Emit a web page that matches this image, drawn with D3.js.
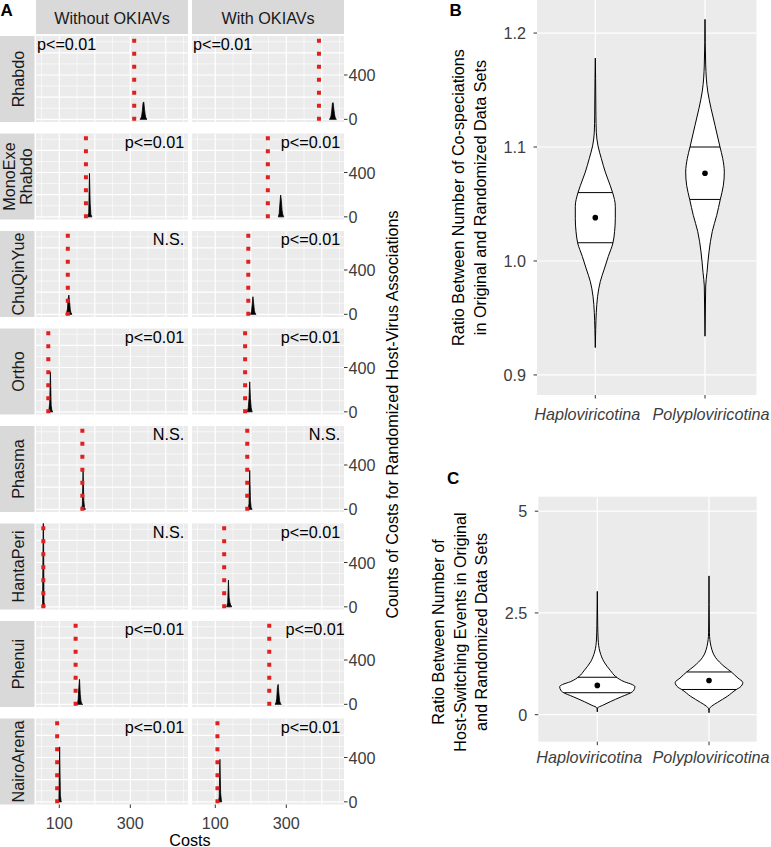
<!DOCTYPE html>
<html><head><meta charset="utf-8">
<script src="https://cdn.jsdelivr.net/npm/d3@7"></script>
<style>
body{margin:0;background:#fff}
text{font-family:"Liberation Sans",Arial,Helvetica,sans-serif}
</style>
</head><body>
<svg id="chart" width="771" height="847"></svg>
<script>
// ---------------- DATA ----------------
const facetRows = ["Rhabdo", "MonoExe\nRhabdo", "ChuQinYue", "Ortho", "Phasma", "HantaPeri", "Phenui", "NairoArena"];
const facetCols = ["Without OKIAVs", "With OKIAVs"];

// observed cost (red dotted line) per row
const observedWithout = [311, 175, 124, 69, 165, 55, 146, 94];
const observedWith    = [392, 248, 193, 184, 190, 125, 252, 106];

// randomized cost histograms (bin width 2 cost units)
const binWidth = 2;
const histStartWithout = [327, 180, 118, 70, 162, 52, 148, 96];
const histCountsWithout = [
  [3, 10, 30, 80, 150, 156, 90, 40, 12, 3],
  [5, 40, 392, 120, 20, 5],
  [3, 15, 50, 140, 174, 110, 40, 12, 3],
  [20, 80, 361, 60, 15, 3],
  [10, 40, 367, 80, 15, 3],
  [30, 950, 40, 10],
  [3, 10, 40, 150, 226, 90, 30, 8, 2],
  [10, 30, 496, 60, 10]
];
const histStartWith = [421, 277, 199, 190, 192, 132, 268, 108];
const histCountsWith = [
  [3, 10, 30, 80, 147, 150, 90, 40, 12, 3],
  [5, 30, 120, 196, 150, 60, 20, 5],
  [5, 25, 90, 159, 100, 35, 10, 3],
  [10, 40, 120, 271, 120, 40, 10],
  [10, 50, 352, 80, 15, 3],
  [10, 40, 241, 80, 40, 20, 8],
  [3, 15, 50, 150, 180, 100, 35, 10, 3],
  [10, 40, 383, 80, 15]
];

const pLabelWithout = ["p<=0.01", "p<=0.01", "N.S.", "p<=0.01", "N.S.", "N.S.", "p<=0.01", "p<=0.01"];
const pLabelWith    = ["p<=0.01", "p<=0.01", "p<=0.01", "p<=0.01", "N.S.", "p<=0.01", "p<=0.01", "p<=0.01"];
// annotation x (cost units) and anchor
const pLabelXWithout = [37, 452, 452, 452, 452, 452, 452, 452];
const pLabelXWith    = [37, 452, 452, 452, 452, 452, 465, 452];
const pLabelAnchorRow = ["start", "end", "end", "end", "end", "end", "end", "end"];

const costDomain = [34.4, 462.5];
const costTicks = [100, 300];
const costMajor = [100, 200, 300, 400];
const costMinor = [50, 150, 250, 350, 450];
const countDomain = [-24, 752];
const countTicks = [0, 400];
const countMajor = [0, 200, 400, 600];
const countMinor = [100, 300, 500, 700];

// Panel B: co-speciation ratio violins
const violinGroups = ["Haploviricotina", "Polyploviricotina"];
const cospecHaploVals = [1.178, 1.160, 1.128, 1.113, 1.101, 1.090, 1.078, 1.066, 1.060, 1.048, 1.037, 1.026, 1.016, 1.004, 0.993, 0.982, 0.969, 0.955, 0.940, 0.924];
const cospecHaploDens = [0, 0.015, 0.03, 0.05, 0.135, 0.30, 0.50, 0.75, 0.865, 1.0, 1.0, 0.965, 0.885, 0.65, 0.45, 0.25, 0.115, 0.05, 0.02, 0];
const cospecPolyVals = [1.212, 1.172, 1.149, 1.134, 1.119, 1.100, 1.090, 1.078, 1.066, 1.054, 1.040, 1.026, 1.008, 0.990, 0.978, 0.950, 0.934];
const cospecPolyDens = [0, 0.035, 0.135, 0.30, 0.50, 0.75, 0.885, 0.965, 0.915, 0.765, 0.585, 0.365, 0.20, 0.10, 0.035, 0.015, 0];
const cospecQuantiles = [[1.016, 1.060], [1.054, 1.100]];
const cospecMeans = [1.038, 1.077];
const cospecTicks = [0.9, 1.0, 1.1, 1.2];
const cospecDomain = [0.8824, 1.229];

// Panel C: host-switching ratio violins
const switchHaploVals = [3.03, 2.20, 1.86, 1.54, 1.30, 1.08, 0.94, 0.81, 0.74, 0.69, 0.60, 0.56, 0.44, 0.32, 0.23, 0.17, 0.07];
const switchHaploDens = [0, 0.011, 0.021, 0.071, 0.176, 0.35, 0.48, 0.71, 0.92, 0.99, 0.96, 0.92, 0.63, 0.34, 0.14, 0.011, 0];
const switchPolyVals = [3.41, 2.01, 1.68, 1.40, 1.19, 1.05, 0.90, 0.79, 0.67, 0.62, 0.45, 0.30, 0.21, 0.15, 0.05];
const switchPolyDens = [0, 0.011, 0.053, 0.176, 0.395, 0.587, 0.763, 0.89, 0.81, 0.72, 0.48, 0.22, 0.071, 0.011, 0];
const switchQuantiles = [[0.54, 0.92], [0.62, 1.05]];
const switchMeans = [0.72, 0.84];
const switchTicks = [0, 2.5, 5];
const switchTickLabels = ["0", "2.5", "5"];
const switchDomain = [-0.663, 5.356];

// ---------------- DRAW ----------------
const svg = d3.select("#chart");
const FONT = 16.2;
const stripFill = "#d9d9d9", panelFill = "#ebebeb", axisText = "#3d3d3d", tickCol = "#333333";
const redCol = "#e01f1f";

// ----- Panel A layout -----
const colLeft = [36, 192], colW = 152;
const rowTop0 = 36, rowStep = 97.5, rowH = 86;
const defs = svg.append("defs");

// column strips
facetCols.forEach((c, j) => {
  svg.append("rect").attr("x", colLeft[j]).attr("y", 0).attr("width", colW).attr("height", 34).attr("fill", stripFill);
  svg.append("text").attr("x", colLeft[j] + colW / 2).attr("y", 23.5).attr("text-anchor", "middle")
    .attr("font-size", FONT).attr("fill", "#1a1a1a").text(c);
});

const obsByCol = [observedWithout, observedWith];
const hStartByCol = [histStartWithout, histStartWith];
const hCountsByCol = [histCountsWithout, histCountsWith];
const pLabByCol = [pLabelWithout, pLabelWith];
const pXByCol = [pLabelXWithout, pLabelXWith];

facetRows.forEach((rowName, i) => {
  const top = rowTop0 + i * rowStep;
  // row strip
  svg.append("rect").attr("x", 0).attr("y", top).attr("width", 34.5).attr("height", rowH).attr("fill", stripFill);
  const lines = rowName.split("\n");
  const st = svg.append("text").attr("transform", `translate(17.5,${top + rowH / 2}) rotate(-90)`)
    .attr("text-anchor", "middle").attr("font-size", FONT).attr("fill", "#1a1a1a");
  lines.forEach((ln, k) => {
    st.append("tspan").attr("x", 0).attr("y", (k - (lines.length - 1) / 2) * 17.5)
      .attr("dominant-baseline", "central").text(ln);
  });

  const y = d3.scaleLinear().domain(countDomain).range([top + rowH, top]);

  facetCols.forEach((c, j) => {
    const x = d3.scaleLinear().domain(costDomain).range([colLeft[j], colLeft[j] + colW]);
    const clipId = `clip-${i}-${j}`;
    defs.append("clipPath").attr("id", clipId).append("rect")
      .attr("x", colLeft[j]).attr("y", top).attr("width", colW).attr("height", rowH);
    const g = svg.append("g");
    g.append("rect").attr("x", colLeft[j]).attr("y", top).attr("width", colW).attr("height", rowH).attr("fill", panelFill);
    const gg = g.append("g").attr("clip-path", `url(#${clipId})`);
    costMinor.forEach(v => gg.append("line").attr("x1", x(v)).attr("x2", x(v)).attr("y1", top).attr("y2", top + rowH).attr("stroke", "#fff").attr("stroke-width", 0.6));
    countMinor.forEach(v => gg.append("line").attr("y1", y(v)).attr("y2", y(v)).attr("x1", colLeft[j]).attr("x2", colLeft[j] + colW).attr("stroke", "#fff").attr("stroke-width", 0.6));
    costMajor.forEach(v => gg.append("line").attr("x1", x(v)).attr("x2", x(v)).attr("y1", top).attr("y2", top + rowH).attr("stroke", "#fff").attr("stroke-width", 1.2));
    countMajor.forEach(v => gg.append("line").attr("y1", y(v)).attr("y2", y(v)).attr("x1", colLeft[j]).attr("x2", colLeft[j] + colW).attr("stroke", "#fff").attr("stroke-width", 1.2));

    // histogram (frequency polygon of bins)
    const start = hStartByCol[j][i], counts = hCountsByCol[j][i];
    const pts = [[start, 0]];
    counts.forEach((cnt, k) => pts.push([start + k * binWidth + binWidth / 2, cnt]));
    pts.push([start + counts.length * binWidth, 0]);
    gg.append("path").attr("d", d3.line().x(d => x(d[0])).y(d => y(Math.max(d[1], 0)))(pts) + "Z")
      .attr("fill", "#000").attr("stroke", "#000").attr("stroke-width", 0.8).attr("stroke-linejoin", "miter");

    // observed red dotted line
    gg.append("line").attr("x1", x(obsByCol[j][i])).attr("x2", x(obsByCol[j][i]))
      .attr("y1", top).attr("y2", top + rowH).attr("stroke", redCol).attr("stroke-width", 4)
      .attr("stroke-dasharray", "4 9").attr("stroke-dashoffset", 10.3);

    // p label
    g.append("text").attr("x", x(pXByCol[j][i])).attr("y", top + 14)
      .attr("text-anchor", pLabelAnchorRow[i]).attr("font-size", FONT).attr("fill", "#000")
      .text(pLabByCol[j][i]);
  });

  // right y-axis
  countTicks.forEach(t => {
    const ty = y(t);
    svg.append("line").attr("x1", colLeft[1] + colW).attr("x2", colLeft[1] + colW + 3.5).attr("y1", ty).attr("y2", ty)
      .attr("stroke", tickCol).attr("stroke-width", 1);
    svg.append("text").attr("x", colLeft[1] + colW + 4.5).attr("y", ty).attr("dominant-baseline", "central")
      .attr("font-size", FONT).attr("fill", axisText).text(t);
  });
});

// bottom x-axis of panel A
const aBottom = rowTop0 + (facetRows.length - 1) * rowStep + rowH;
facetCols.forEach((c, j) => {
  const x = d3.scaleLinear().domain(costDomain).range([colLeft[j], colLeft[j] + colW]);
  costTicks.forEach(t => {
    svg.append("line").attr("x1", x(t)).attr("x2", x(t)).attr("y1", aBottom).attr("y2", aBottom + 3.5)
      .attr("stroke", tickCol).attr("stroke-width", 1);
    svg.append("text").attr("x", x(t)).attr("y", aBottom + 24).attr("text-anchor", "middle")
      .attr("font-size", FONT).attr("fill", axisText).text(t);
  });
});
svg.append("text").attr("x", (colLeft[0] + colLeft[1] + colW) / 2).attr("y", 845.5).attr("text-anchor", "middle")
  .attr("font-size", FONT).attr("fill", "#000").text("Costs");
svg.append("text").attr("transform", "translate(391.5,414.5) rotate(-90)").attr("text-anchor", "middle")
  .attr("dominant-baseline", "central").attr("font-size", FONT).attr("fill", "#000")
  .text("Counts of Costs for Randomized Host-Virus Associations");

// panel letters
svg.append("text").attr("x", 0.5).attr("y", 15.5).attr("font-size", 17).attr("font-weight", "bold").text("A");
svg.append("text").attr("x", 449.5).attr("y", 15.5).attr("font-size", 17).attr("font-weight", "bold").text("B");
svg.append("text").attr("x", 447).attr("y", 483.5).attr("font-size", 17).attr("font-weight", "bold").text("C");

// ----- violin panels -----
function violinPanel(opt) {
  const { left, right, top, bottom, catRange, domain, ticks, tickLabels, series, quant, means, maxHW, titleLines, titleX, titleY, labelY, labelDx } = opt;
  const y = d3.scaleLinear().domain(domain).range([bottom, top]);
  const x = d3.scalePoint().domain(violinGroups).range(catRange);
  const w = d3.scaleLinear().domain([0, 1]).range([0, maxHW]);
  svg.append("rect").attr("x", left).attr("y", top).attr("width", right - left).attr("height", bottom - top).attr("fill", panelFill);
  ticks.forEach(t => svg.append("line").attr("x1", left).attr("x2", right).attr("y1", y(t)).attr("y2", y(t)).attr("stroke", "#fff").attr("stroke-width", 1.2));
  violinGroups.forEach(gname => svg.append("line").attr("x1", x(gname)).attr("x2", x(gname)).attr("y1", top).attr("y2", bottom).attr("stroke", "#fff").attr("stroke-width", 1.2));
  // y axis
  ticks.forEach((t, k) => {
    svg.append("line").attr("x1", left - 3.5).attr("x2", left).attr("y1", y(t)).attr("y2", y(t)).attr("stroke", tickCol);
    svg.append("text").attr("x", left - 11).attr("y", y(t)).attr("text-anchor", "end").attr("dominant-baseline", "central")
      .attr("font-size", FONT).attr("fill", axisText).text(tickLabels[k]);
  });
  // x axis
  violinGroups.forEach((gname, k) => {
    svg.append("line").attr("x1", x(gname)).attr("x2", x(gname)).attr("y1", bottom).attr("y2", bottom + 3.5).attr("stroke", tickCol);
    svg.append("text").attr("x", x(gname) + labelDx[k]).attr("y", labelY).attr("text-anchor", "middle")
      .attr("font-size", FONT).attr("font-style", "italic").attr("fill", axisText).text(gname);
  });
  // violins
  series.forEach((s, k) => {
    const cx = x(violinGroups[k]);
    const pts = s.vals.map((v, idx) => [v, s.dens[idx]]);
    const area = d3.area().y(d => y(d[0])).x0(d => cx - w(d[1])).x1(d => cx + w(d[1])).curve(d3.curveMonotoneY);
    const sorted = pts.slice().sort((a, b) => a[0] - b[0]);
    svg.append("path").attr("d", area(sorted)).attr("fill", "#fff").attr("stroke", "#000").attr("stroke-width", 1);
    const interp = v => {
      for (let q = 0; q < sorted.length - 1; q++) {
        if (v >= sorted[q][0] && v <= sorted[q + 1][0]) {
          const f = (v - sorted[q][0]) / (sorted[q + 1][0] - sorted[q][0]);
          return sorted[q][1] + f * (sorted[q + 1][1] - sorted[q][1]);
        }
      }
      return 0;
    };
    quant[k].forEach(qv => {
      const hw = w(interp(qv));
      svg.append("line").attr("x1", cx - hw).attr("x2", cx + hw).attr("y1", y(qv)).attr("y2", y(qv))
        .attr("stroke", "#000").attr("stroke-width", 1);
    });
    svg.append("circle").attr("cx", cx).attr("cy", y(means[k])).attr("r", 2.8).attr("fill", "#000");
  });
  // title
  const tt = svg.append("text").attr("transform", `translate(${titleX},${titleY}) rotate(-90)`)
    .attr("text-anchor", "middle").attr("font-size", FONT).attr("fill", "#000");
  titleLines.forEach((ln, k) => tt.append("tspan").attr("x", 0).attr("y", (k - (titleLines.length - 1) / 2) * 21.5)
    .attr("dominant-baseline", "central").text(ln));
}

violinPanel({
  left: 537, right: 756.5, top: 0, bottom: 395, catRange: [595.3, 705],
  domain: cospecDomain, ticks: cospecTicks, tickLabels: cospecTicks.map(d => d.toFixed(1)),
  series: [{ vals: cospecHaploVals, dens: cospecHaploDens }, { vals: cospecPolyVals, dens: cospecPolyDens }],
  quant: cospecQuantiles, means: cospecMeans, maxHW: 20,
  titleLines: ["Ratio Between Number of Co-speciations", "in Original and Randomized Data Sets"],
  titleX: 469, titleY: 197.5, labelY: 419.5, labelDx: [-8, 6]
});

violinPanel({
  left: 538.3, right: 756.7, top: 496.7, bottom: 741.7, catRange: [597.3, 709],
  domain: switchDomain, ticks: switchTicks, tickLabels: switchTickLabels,
  series: [{ vals: switchHaploVals, dens: switchHaploDens }, { vals: switchPolyVals, dens: switchPolyDens }],
  quant: switchQuantiles, means: switchMeans, maxHW: 38,
  titleLines: ["Ratio Between Number of", "Host-Switching Events in Original", "and Randomized Data Sets"],
  titleX: 459.5, titleY: 632, labelY: 763, labelDx: [-8, 2]
});
</script>
</body></html>
